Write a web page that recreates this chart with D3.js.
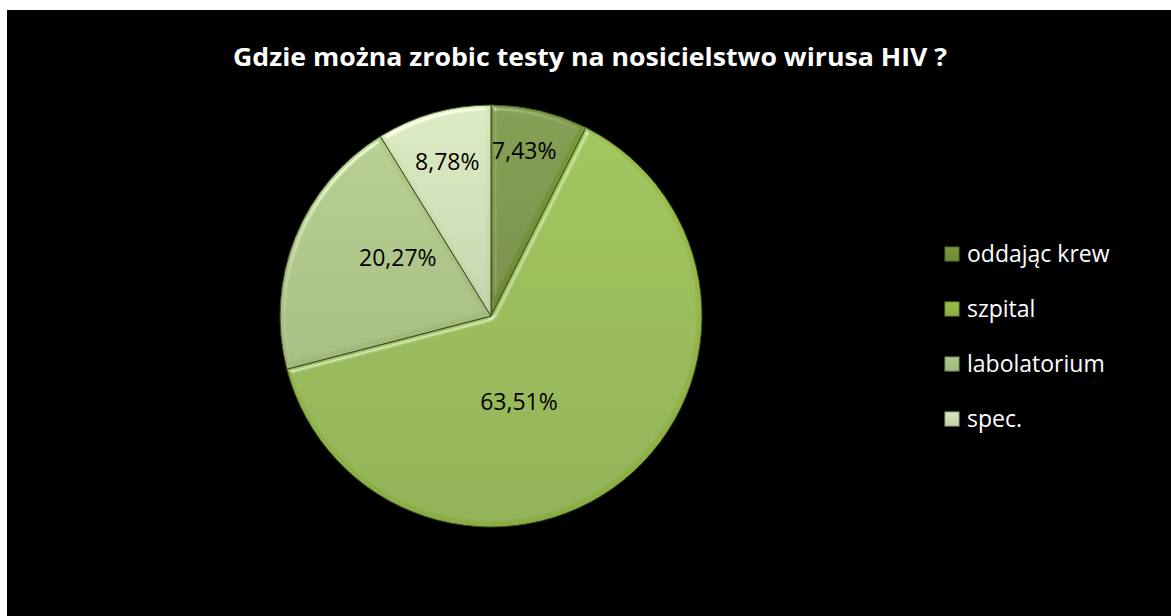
<!DOCTYPE html>
<html>
<head>
<meta charset="utf-8">
<script src="https://cdn.jsdelivr.net/npm/d3@7"></script>
<style>
  body { margin:0; background:#fff; }
  text { font-family: "Open Sans", "DejaVu Sans", sans-serif; }
</style>
</head>
<body>
<div id="vis"></div>
<script>
// data
let categories = ['oddając krew', 'szpital', 'labolatorium', 'spec.']
let values = [7.43, 63.51, 20.27, 8.78]
let labels = ['7,43%', '63,51%', '20,27%', '8,78%']
let colors = ['#76933a', '#94b94a', '#abc483', '#d0dfb6']

let W = 1171, H = 616
let svg = d3.select('#vis').append('svg')
  .attr('width', W).attr('height', H)

// black chart area
svg.append('rect')
  .attr('x', 7).attr('y', 10)
  .attr('width', W - 7).attr('height', H - 10)
  .attr('fill', '#000')

let defs = svg.append('defs')

// bevel: highlight on edges facing the light
let f = defs.append('filter').attr('id', 'bevel')
  .attr('x', '-5%').attr('y', '-5%').attr('width', '110%').attr('height', '110%')
f.append('feGaussianBlur').attr('in', 'SourceAlpha').attr('stdDeviation', 2.5).attr('result', 'blur')
f.append('feSpecularLighting').attr('in', 'blur').attr('surfaceScale', 5)
  .attr('specularConstant', 0.8).attr('specularExponent', 20)
  .attr('lighting-color', '#ffffff').attr('result', 'spec')
  .append('feDistantLight').attr('azimuth', 235).attr('elevation', 35)
f.append('feComposite').attr('in', 'spec').attr('in2', 'SourceAlpha').attr('operator', 'in').attr('result', 'specOut')
f.append('feComposite').attr('in', 'SourceGraphic').attr('in2', 'specOut')
  .attr('operator', 'arithmetic').attr('k1', 0).attr('k2', 1).attr('k3', 0.55).attr('k4', 0)

colors.forEach((c, i) => {
  let g = defs.append('linearGradient').attr('id', 'grad' + i)
    .attr('x1', 0).attr('y1', 0).attr('x2', 0).attr('y2', 1)
  g.append('stop').attr('offset', '0%').attr('stop-color', d3.color(c).brighter(0.1))
  g.append('stop').attr('offset', '100%').attr('stop-color', d3.color(c).darker(0.2))
})

// title
svg.append('text')
  .attr('x', 590).attr('y', 66)
  .attr('text-anchor', 'middle')
  .attr('fill', '#fff')
  .attr('font-weight', 'bold')
  .attr('font-size', '25px')
  .attr('textLength', 714).attr('lengthAdjust', 'spacingAndGlyphs')
  .text('Gdzie można zrobic testy na nosicielstwo wirusa HIV ?')

// pie
let cx = 491, cy = 316, radius = 211
let pieG = svg.append('g').attr('transform', `translate(${cx},${cy})`)

let pie = d3.pie().sort(null).value(d => d.value)
let data_ready = pie(categories.map((c, i) => ({name: c, value: values[i], label: labels[i], i: i})))

let arc = d3.arc().innerRadius(0).outerRadius(radius)

pieG.selectAll('path')
  .data(data_ready)
  .join('path')
  .attr('d', arc)
  .attr('fill', d => `url(#grad${d.data.i})`)
  .attr('stroke', '#3a4a1c')
  .attr('stroke-width', 1)
  .attr('filter', 'url(#bevel)')

// label placement (Excel best fit, roughly)
let labelR = [0.80, 0.43, 0.52, 0.76]
let labelShift = [-2, 21, 10, 0]
pieG.selectAll('.lbl')
  .data(data_ready)
  .join('text')
  .attr('class', 'lbl')
  .attr('transform', d => {
    let a = (d.startAngle + d.endAngle) / 2 + labelShift[d.data.i] * Math.PI / 180
    let r = radius * labelR[d.data.i]
    return `translate(${r * Math.sin(a)},${-r * Math.cos(a)})`
  })
  .attr('dy', '0.35em')
  .attr('text-anchor', 'middle')
  .attr('font-size', '23px')
  .attr('fill', '#000')
  .text(d => d.data.label)

// legend
let legend = svg.append('g').attr('transform', 'translate(945,247)')
let rows = legend.selectAll('g')
  .data(categories)
  .join('g')
  .attr('transform', (d, i) => `translate(0,${i * 55})`)

rows.append('rect')
  .attr('width', 14).attr('height', 14)
  .attr('fill', (d, i) => `url(#grad${i})`)
  .attr('stroke', (d, i) => d3.color(colors[i]).darker(0.8))
  .attr('stroke-width', 1)

rows.append('text')
  .attr('x', 22).attr('y', 7)
  .attr('dy', '0.35em')
  .attr('font-size', '23px')
  .attr('fill', '#fff')
  .text(d => d)
</script>
</body>
</html>
